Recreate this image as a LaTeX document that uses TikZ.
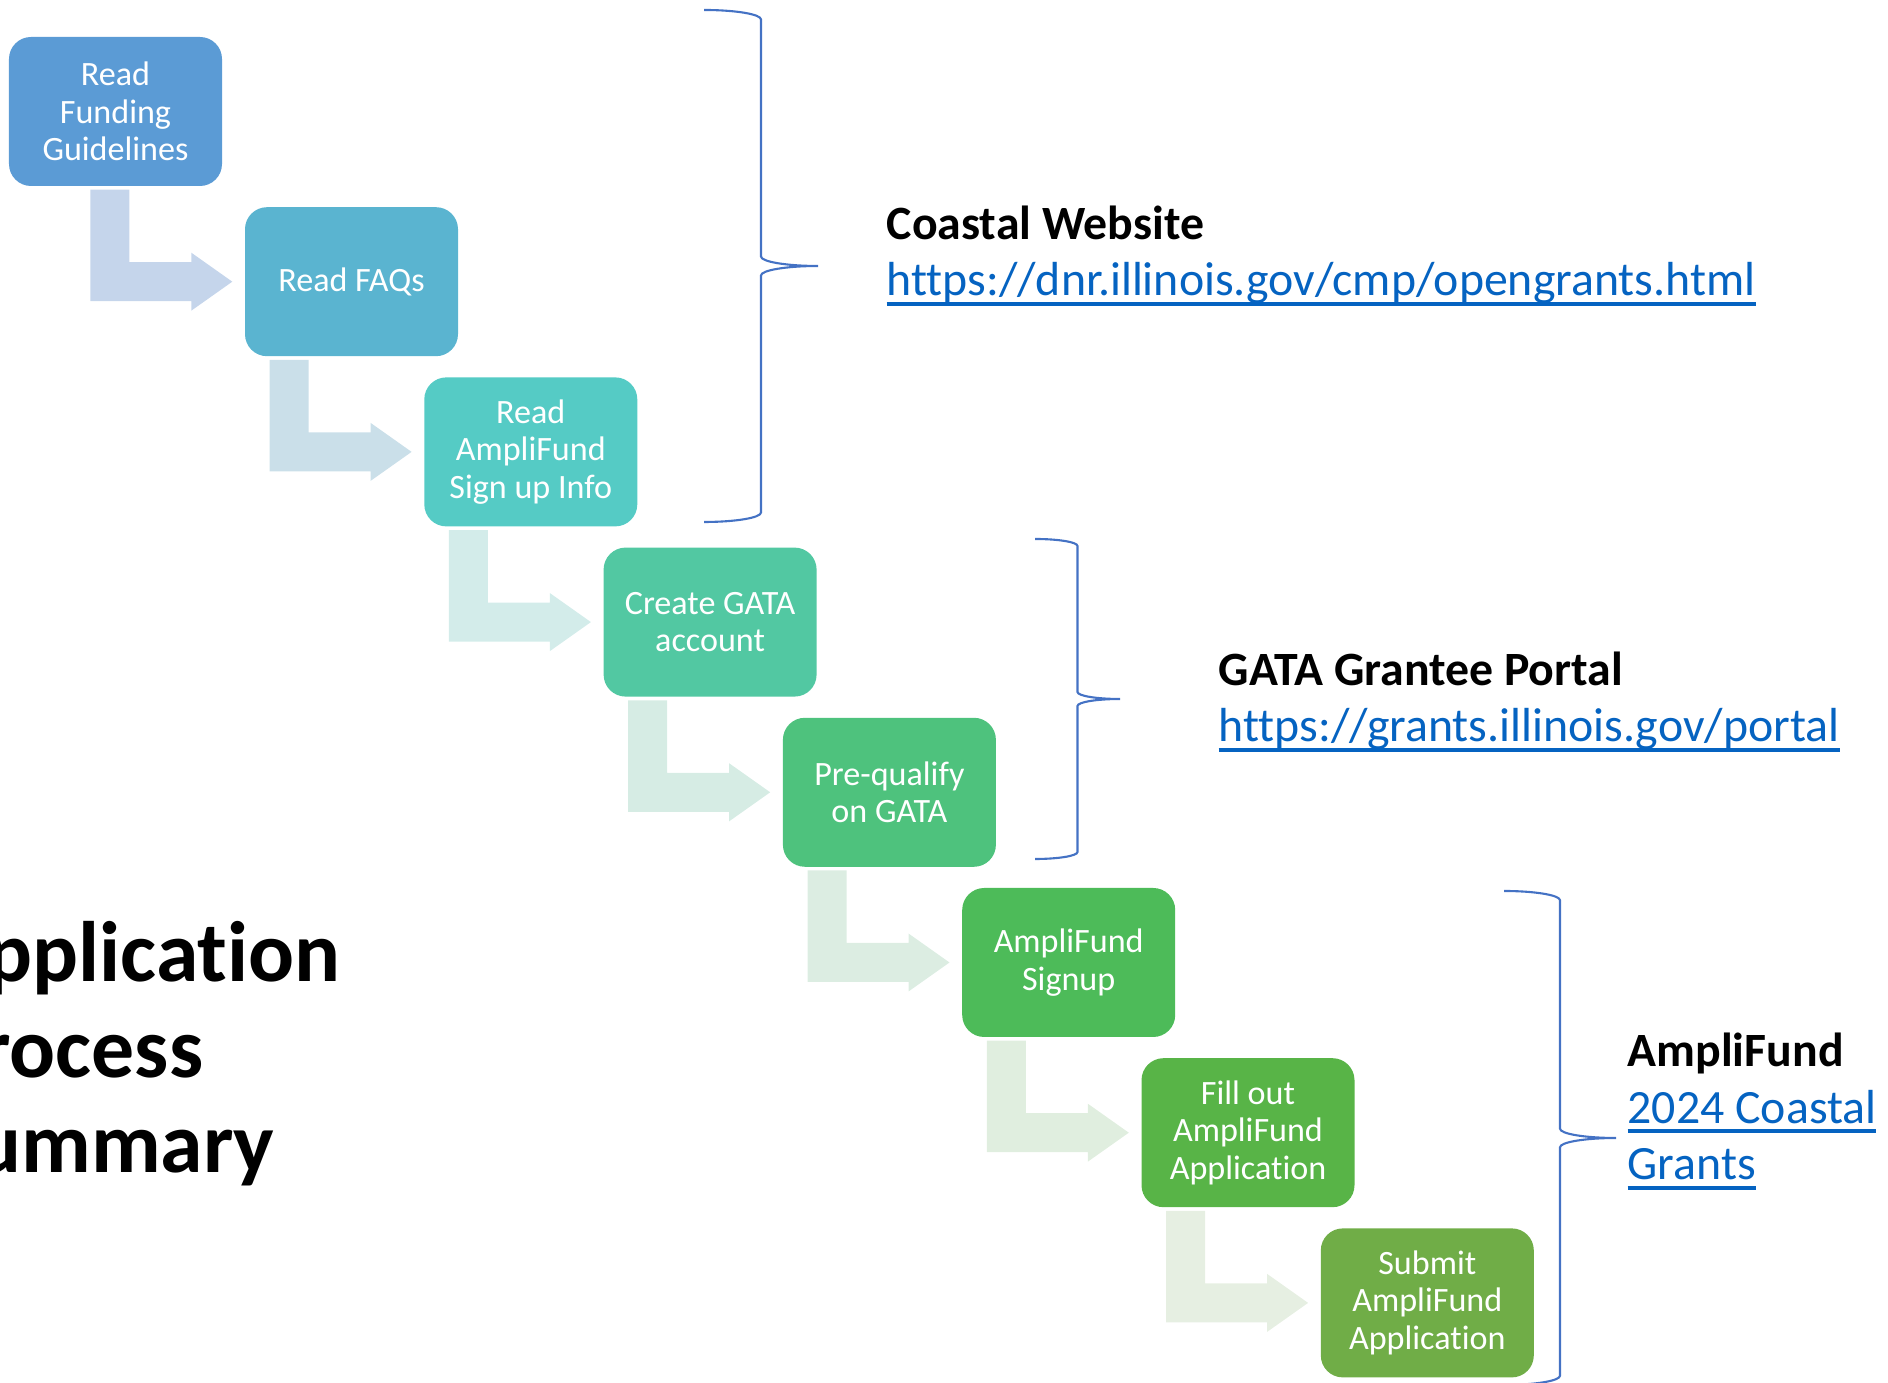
\documentclass[tikz,border=0pt]{standalone}
\usepackage{fontspec}
\setmainfont{Carlito}[Ligatures=NoCommon]
\usepackage{xcolor}
\usetikzlibrary{positioning,calc}

% box colours, blue to green
\definecolor{boxA}{HTML}{5B9BD5}
\definecolor{boxB}{HTML}{5AB4D0}
\definecolor{boxC}{HTML}{55CBC5}
\definecolor{boxD}{HTML}{52C8A2}
\definecolor{boxE}{HTML}{4EC27D}
\definecolor{boxF}{HTML}{4DBB59}
\definecolor{boxG}{HTML}{58B447}
\definecolor{boxH}{HTML}{70AD47}
% arrow tints
\definecolor{arrA}{HTML}{C5D5EB}
\definecolor{arrB}{HTML}{CADFE9}
\definecolor{arrC}{HTML}{D3ECEA}
\definecolor{arrD}{HTML}{D6ECE4}
\definecolor{arrE}{HTML}{DCEDE2}
\definecolor{arrF}{HTML}{E0EEDF}
\definecolor{arrG}{HTML}{E6EFE2}
\definecolor{braceblue}{HTML}{4472C4}
\definecolor{linkblue}{HTML}{0563C1}

\tikzset{
  stepbox/.style={rectangle, rounded corners=0.22cm, minimum width=2.13cm,
    minimum height=1.49cm, inner sep=2pt, align=center, text=white,
    font=\fontsize{9.7}{10.7}\selectfont},
  bracket/.style={draw=braceblue, line width=0.6pt},
  heading/.style={anchor=base west, align=left, inner sep=0pt,
    font=\fontsize{13.6}{16.2}\selectfont}
}

\newsavebox{\linkbox}
\newcommand{\weblink}[1]{\sbox{\linkbox}{\color{linkblue}#1}{\color{linkblue}\rlap{\rule[-0.2em]{\wd\linkbox}{0.07em}}\usebox{\linkbox}}}

% right brace: tip x, top y, bottom y, cusp y, half width, end radius
\newcommand{\rightbrace}[6]{%
  \draw[bracket] (#1,#2) arc[start angle=90, end angle=0, x radius=#5, y radius=#6]
    -- (#1+#5,#4+#6) arc[start angle=180, end angle=270, x radius=#5, y radius=#6]
    arc[start angle=90, end angle=180, x radius=#5, y radius=#6]
    -- (#1+#5,#3+#6) arc[start angle=0, end angle=-90, x radius=#5, y radius=#6];}

\begin{document}
\begin{tikzpicture}
\useasboundingbox (0,0) rectangle (18.88,13.83);

% Steps
\node[stepbox, fill=boxA] (guide)    at (1.155,12.715) {Read\\Funding\\Guidelines};
\node[stepbox, fill=boxB] (faq)      at (3.515,11.013) {Read FAQs};
\node[stepbox, fill=boxC] (signinfo) at (5.308,9.311)  {Read\\AmpliFund\\Sign up Info};
\node[stepbox, fill=boxD] (gata)     at (7.101,7.609)  {Create GATA\\account};
\node[stepbox, fill=boxE] (prequal)  at (8.894,5.907)  {Pre-qualify\\on GATA};
\node[stepbox, fill=boxF] (signup)   at (10.687,4.205) {AmpliFund\\Signup};
\node[stepbox, fill=boxG] (fillout)  at (12.480,2.503) {Fill out\\AmpliFund\\Application};
\node[stepbox, fill=boxH] (submit)   at (14.273,0.801) {Submit\\AmpliFund\\Application};

% Bent arrows
\foreach \src/\dst/\tint in {guide/faq/arrA, faq/signinfo/arrB, signinfo/gata/arrC,
    gata/prequal/arrD, prequal/signup/arrE, signup/fillout/arrF, fillout/submit/arrG}
  \fill[\tint] ([shift={(-1.54,-0.03)}]\dst.west |- \src.south) -- ++(0.39,0)
    -- ([shift={(-1.15,0.195)}]\dst.west) -- ++(0.62,0) -- ++(0,0.095)
    -- ([xshift=-0.12cm]\dst.west) -- ++(-0.41,-0.29) -- ++(0,0.095)
    -- ([shift={(-1.54,-0.195)}]\dst.west) -- cycle;

% Braces
\rightbrace{7.04}{13.73}{8.61}{11.17}{0.57}{0.095}
\rightbrace{10.35}{8.44}{5.24}{6.84}{0.425}{0.07}
\rightbrace{15.04}{4.92}{-0.02}{2.45}{0.56}{0.093}

% Sites (base = last line)
\node[heading] (coastal) at (8.86,10.87) {\textbf{Coastal Website}\\\weblink{https://dnr.illinois.gov/cmp/opengrants.html}};
\node[heading] (portal) at (12.18,6.41) {\textbf{GATA Grantee Portal}\\\weblink{https://grants.illinois.gov/portal}};
\node[heading] (ampli) at (16.27,2.03) {\textbf{AmpliFund}\\\weblink{2024 Coastal}\\\weblink{Grants}};

% Title
\node[anchor=base west, align=left, inner sep=0pt, font=\fontsize{24.4}{27.3}\selectfont\bfseries]
  (title) at (-0.66,2.10) {Application\\Process\\Summary};

\end{tikzpicture}
\end{document}
